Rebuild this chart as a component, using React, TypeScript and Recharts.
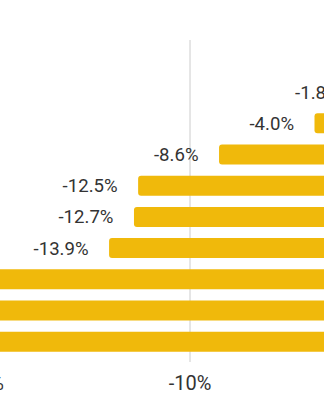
import React from 'react';
import { BarChart, Bar, XAxis, YAxis, CartesianGrid, LabelList } from 'recharts';

const categories = ['A', 'B', 'C', 'D', 'E', 'F', 'G', 'H', 'I'];
const values = [-1.8, -4.0, -8.6, -12.5, -12.7, -13.9, -20.6, -22.4, -25.1];
const xTicks = [-30, -20, -10, 0];

const data = categories.map((name, i) => ({ name, value: values[i] }));

const fmtLabel = (v: number) => `${v.toFixed(1)}%`;
const fmtTick = (v: number) => `${v}%`;

const BarLabel = (props: any) => {
  const { x, y, width, height, value } = props;
  const left = Math.min(Number(x), Number(x) + Number(width));
  return (
    <text
      x={left - 20.5}
      y={Number(y) + Number(height) / 2 + 0.5}
      textAnchor="end"
      dominantBaseline="central"
      fill="#333"
      fontSize={18.6}
      fontFamily="Roboto"
    >
      {fmtLabel(value)}
    </text>
  );
};

export default function App() {
  return (
    <div style={{ position: 'fixed', left: 0, top: 0, width: 324, height: 400, overflow: 'hidden', background: '#fff' }}>
      <div style={{ position: 'absolute', left: -225, top: 0 }}>
        <BarChart
          width={700}
          height={400}
          data={data}
          layout="vertical"
          margin={{ top: 40, right: 77.5, bottom: 8, left: 0 }}
        >
          <CartesianGrid horizontal={false} stroke="#ccc" />
          <XAxis
            type="number"
            domain={[-30, 0]}
            ticks={xTicks}
            tickFormatter={fmtTick}
            axisLine={false}
            tickLine={false}
            tick={{ fill: '#333', fontSize: 20, fontFamily: 'Roboto' }}
            tickMargin={8}
            height={30}
            allowDataOverflow
          />
          <YAxis type="category" dataKey="name" hide padding={{ top: 36, bottom: 5 }} />
          <Bar dataKey="value" fill="#F0B90B" barSize={20} radius={3} isAnimationActive={false}>
            <LabelList dataKey="value" content={BarLabel} />
          </Bar>
        </BarChart>
      </div>
    </div>
  );
}
